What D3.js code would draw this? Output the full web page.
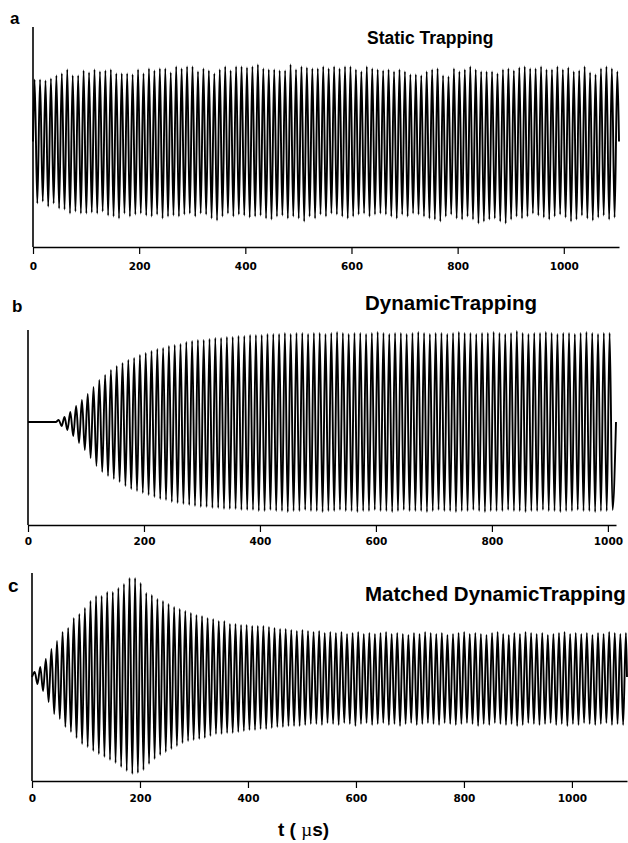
<!DOCTYPE html>
<html>
<head>
<meta charset="utf-8">
<script src="https://cdn.jsdelivr.net/npm/d3@7"></script>
<style>
  body { margin: 0; background: #fff; }
  svg { display: block; }
</style>
</head>
<body>
<svg id="chart" width="628" height="843"></svg>
<script>
// ---- data (peak heights of each cycle, arbitrary units) ----
var tickVals = [0, 200, 400, 600, 800, 1000];

// a: static trapping
var periodA = 10.26, startA = 3, tMaxA = 1104;
var aTop = [
62,62,61,63,66,68,72,66,66,71,
69,72,70,71,72,68,68,68,67,72,
68,73,71,73,73,69,75,73,75,75,
70,73,71,68,72,75,71,75,75,74,
75,77,73,72,72,71,71,77,72,75,
74,73,73,75,73,75,73,75,75,72,
70,75,73,72,71,72,70,72,70,67,
67,66,70,72,73,66,65,73,70,72,
75,72,70,70,70,68,72,73,71,74,
75,73,73,75,72,72,75,72,74,70,
71,75,69,67,73,75,73,70];
var aBot = [
62,60,65,62,67,68,72,70,72,72,
71,72,70,74,75,77,72,75,73,72,
74,75,73,77,75,74,75,73,72,75,
72,73,77,79,75,72,75,73,74,76,
75,74,77,78,75,74,77,75,77,80,
75,77,73,75,72,73,75,77,75,73,
72,75,73,72,73,75,77,73,75,72,
73,75,77,78,80,75,73,77,78,75,
78,82,80,78,77,80,82,78,75,77,
75,72,74,76,78,75,73,76,80,78,
74,77,79,76,74,78,76];

// b: dynamic trapping
var periodB = 10.0, startB = 3, tMaxB = 1014;
var bTop = [
0,0,0,0,0, 2,5,10,16,22, 28,35,42,47,52, 56,59,62,64,67,
69,71,73,74,76, 77,78,80,81,82, 82,83,84,84,85, 85,86,86,87,87,
87,88,88,88,89, 88,89,89,88,89, 89,88,89,90,89, 88,89,89,88,89,
90,89,88,89,89, 88,89,90,89,88, 89,89,88,89,90, 89,89,88,89,89,
90,89,88,89,91, 89,88,89,89,90, 89,88,89,89,88, 89,90,89,88,89,
89];
var bBot = [
0,0,0,0,0, 4,8,14,21,28, 36,44,50,54,57, 60,64,67,69,71,
73,75,77,78,80, 81,82,83,84,85, 85,86,86,87,87, 87,88,88,88,89,
89,88,89,89,90, 89,89,88,89,89, 90,89,89,88,89, 89,90,89,89,88,
89,89,90,89,88, 89,89,89,90,89, 88,89,89,90,89, 89,88,89,90,89,
89,89,88,89,89, 90,89,89,88,89, 89,90,89,89,88, 89,89,90,89,89,
88];

// c: matched dynamic trapping
var periodC = 10.33, startC = 5, tMaxC = 1102;
var cTop = [
5,10,18,28,36,45,49,59,63,69,
76,81,81,85,85,89,93,99,99,94,
84,82,78,76,73,70,68,66,64,62,
61,59,58,56,56,53,53,52,52,51,
51,51,50,49,48,48,47,46,47,46,
45,46,44,45,44,45,43,44,45,43,
44,43,44,45,43,44,43,42,44,43,
45,44,43,44,42,43,44,45,43,44,
43,42,44,45,43,42,44,43,45,44,
43,44,42,43,44,45,43,44,43,44,
42,44,43,45,44,43,44];
var cBot = [
7,14,25,37,42,50,55,61,67,70,
74,77,80,83,86,90,94,97,96,93,
87,82,78,75,72,69,66,64,63,62,
61,59,57,57,56,56,55,54,53,53,
52,52,51,50,50,49,49,49,48,47,
47,48,46,47,48,46,47,49,47,46,
48,47,46,48,47,49,47,46,48,47,
46,47,48,46,47,48,47,46,47,49,
47,48,46,47,48,47,49,48,46,47,
48,47,46,48,47,49,47,48,46,47,
48,47,46,48,47,48,47];

var svg = d3.select("#chart");
svg.append("rect").attr("width", 628).attr("height", 843).attr("fill", "#fff");

var panels = [
  {letter: "a", lx: 10, ly: 24, lsize: 17, title: "Static Trapping", tx: 367, ty: 44, tsize: 17.5,
   top: aTop, bot: aBot, period: periodA, start: startA, tMax: tMaxA,
   x0: 33, x1: 619, yTop: 27, yBot: 247, vMin: -105.5, vMax: 114.5, pad: 9},
  {letter: "b", lx: 12, ly: 312, lsize: 17, title: "DynamicTrapping", tx: 365, ty: 310, tsize: 20.5,
   top: bTop, bot: bBot, period: periodB, start: startB, tMax: tMaxB,
   x0: 28, x1: 616, yTop: 330, yBot: 525, vMin: -103, vMax: 92, pad: 6},
  {letter: "c", lx: 8, ly: 592, lsize: 19, title: "Matched DynamicTrapping", tx: 365, ty: 601, tsize: 20.5,
   top: cTop, bot: cBot, period: periodC, start: startC, tMax: tMaxC,
   x0: 32, x1: 627, yTop: 573, yBot: 781, vMin: -104, vMax: 104, pad: 7}
];

panels.forEach(function(p) {
  var x = d3.scaleLinear().domain([0, p.tMax]).range([p.x0, p.x1]);
  var y = d3.scaleLinear().domain([p.vMin, p.vMax]).range([p.yBot, p.yTop]);

  // build the trace: alternating peaks of each cycle
  var pts = [[0, 0]];
  for (var i = 0; i < p.top.length; i++) {
    var tt = p.start + i * p.period;
    if (tt <= p.tMax) pts.push([tt, p.top[i]]);
    var tb = p.start + (i + 0.5) * p.period;
    if (i < p.bot.length && tb <= p.tMax) pts.push([tb, -p.bot[i]]);
  }
  pts.push([p.tMax, 0]);

  var line = d3.line()
    .x(function(d) { return x(d[0]); })
    .y(function(d) { return y(d[1]); })
    .curve(d3.curveMonotoneX);

  svg.append("path")
    .datum(pts)
    .attr("d", line)
    .attr("fill", "none")
    .attr("stroke", "#000")
    .attr("stroke-width", 1.9)
    .attr("stroke-linejoin", "round");

  // y axis (bare line)
  svg.append("line")
    .attr("x1", x(0)).attr("x2", x(0))
    .attr("y1", p.yTop).attr("y2", p.yBot)
    .attr("stroke", "#000").attr("stroke-width", 1.6);

  // x axis
  var g = svg.append("g")
    .attr("transform", "translate(0," + p.yBot + ")")
    .call(d3.axisBottom(x).tickValues(tickVals).tickFormat(d3.format("d"))
      .tickSize(7).tickSizeOuter(0).tickPadding(p.pad));
  g.select(".domain").attr("stroke-width", 1.5);
  g.selectAll(".tick line").attr("stroke-width", 1.2);
  g.selectAll(".tick text")
    .attr("font-family", "'DejaVu Sans', sans-serif")
    .attr("font-weight", "bold")
    .attr("font-size", "10.5px")
    .attr("fill", "#000");

  svg.append("text")
    .attr("x", p.lx).attr("y", p.ly)
    .attr("font-family", "'Liberation Sans', Arial, sans-serif")
    .attr("font-weight", "bold")
    .attr("font-size", p.lsize + "px")
    .text(p.letter);

  svg.append("text")
    .attr("x", p.tx).attr("y", p.ty)
    .attr("font-family", "'Liberation Sans', Arial, sans-serif")
    .attr("font-weight", "bold")
    .attr("font-size", p.tsize + "px")
    .text(p.title);
});

var xl = svg.append("text")
  .attr("x", 278).attr("y", 836)
  .attr("font-family", "'Liberation Sans', Arial, sans-serif")
  .attr("font-weight", "bold")
  .attr("font-size", "19px");
xl.append("tspan").text("t ( ");
xl.append("tspan").attr("font-family", "'Liberation Serif', serif").attr("font-weight", "normal").text("\u00b5");
xl.append("tspan").text("s)");
</script>
</body>
</html>
